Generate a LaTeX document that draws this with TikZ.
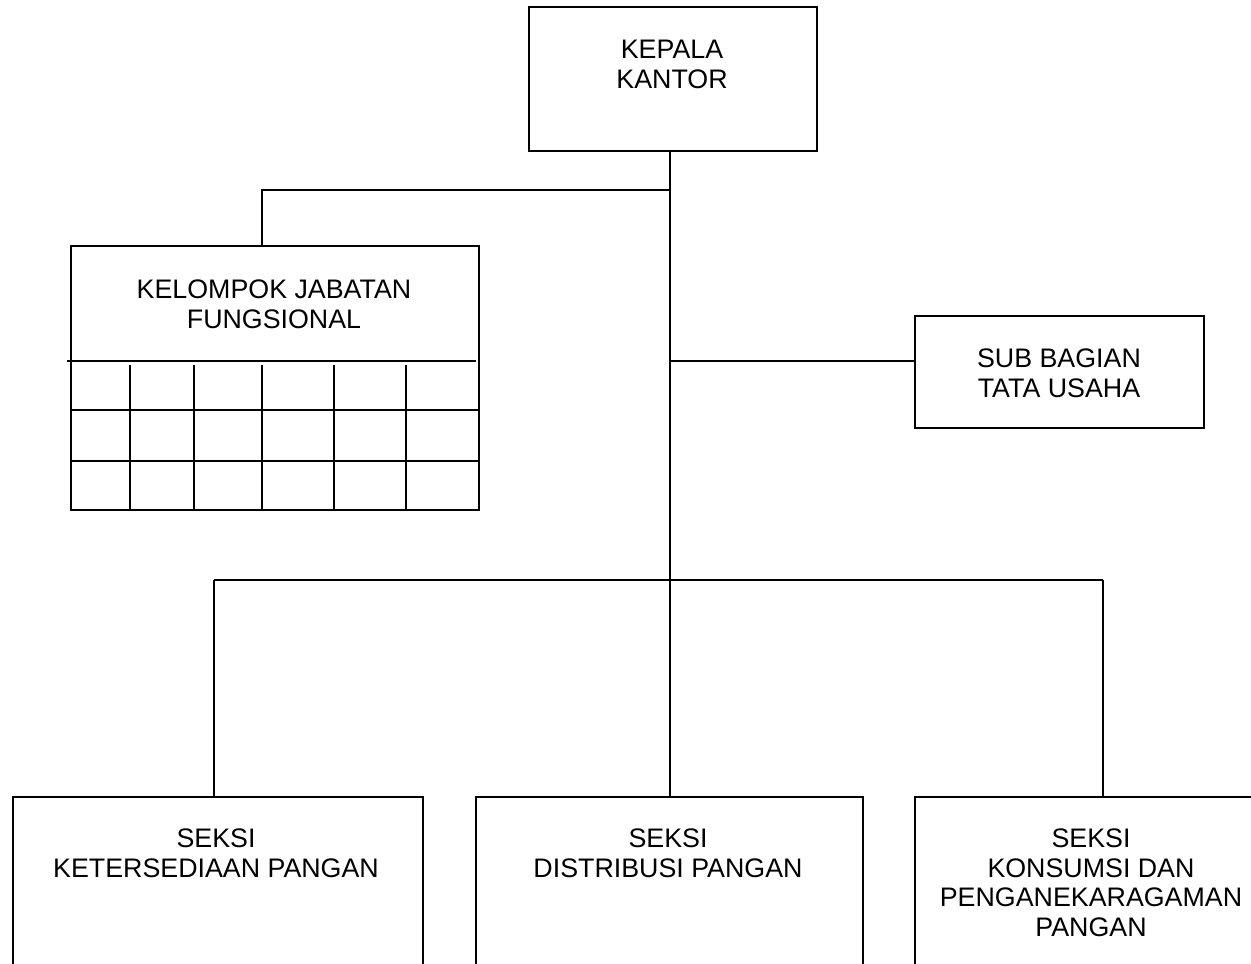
\documentclass[tikz,border=0pt]{standalone}
\usepackage{fontspec}
\setmainfont{Liberation Sans}
\begin{document}
\begin{tikzpicture}[x=1pt,y=-1pt,line width=1.8pt,
  box/.style={draw,rectangle,inner sep=0pt,anchor=north west},
  lbl/.style={align=center,anchor=base,inner sep=0pt,font=\fontsize{26.8}{29.6}\selectfont},
  gridline/.style={line width=1.8pt}]
\useasboundingbox (0,0) rectangle (1251,964);
\clip (0,0) rectangle (1251,964);
% boxes
\node[box,minimum width=288pt,minimum height=144pt] (kepala) at (528,6) {};
\node[box,minimum width=408pt,minimum height=264pt] (kel) at (70,245) {};
\node[box,minimum width=289pt,minimum height=112pt] (sub) at (914,315) {};
\node[box,minimum width=410pt,minimum height=220pt] (s1) at (12,796) {};
\node[box,minimum width=387pt,minimum height=220pt] (s2) at (475,796) {};
\node[box,minimum width=360pt,minimum height=220pt] (s3) at (914,796) {};
% labels (anchor = baseline of the last line)
\node[lbl] (tkepala) at (672,88) {KEPALA\\KANTOR};
\node[lbl] (tkel) at (274,328) {KELOMPOK JABATAN\\FUNGSIONAL};
\node[lbl] (tsub) at (1059,397) {SUB BAGIAN\\TATA USAHA};
\node[lbl] (ts1) at (216,877.5) {SEKSI\\KETERSEDIAAN PANGAN};
\node[lbl] (ts2) at (668,877.5) {SEKSI\\DISTRIBUSI PANGAN};
\node[lbl] (ts3) at (1091,936.5) {SEKSI\\KONSUMSI DAN\\PENGANEKARAGAMAN\\PANGAN};
% grid inside kelompok box
\draw[gridline] (67,361) -- (476,361);
\foreach \x in {130,194,262,334,406} {\draw[gridline] (\x,365) -- (\x,509);}
\foreach \y in {410,461} {\draw[gridline] (70,\y) -- (478,\y);}
% connectors
\coordinate (trunk) at (670,580);
\coordinate (j1) at (670,190);
\coordinate (k1) at (262,245);
\coordinate (j2) at (670,361);
\coordinate (b1) at (214,580);
\coordinate (b3) at (1103,580);
\draw (kepala.south -| trunk) -- (trunk);
\draw (j1) -| (k1);
\draw (j2) -- (j2 -| sub.west);
\draw (b1) -- (b3);
\draw (b1) -- (b1 |- s1.north);
\draw (trunk) -- (trunk |- s2.north);
\draw (b3) -- (b3 |- s3.north);
\end{tikzpicture}
\end{document}
